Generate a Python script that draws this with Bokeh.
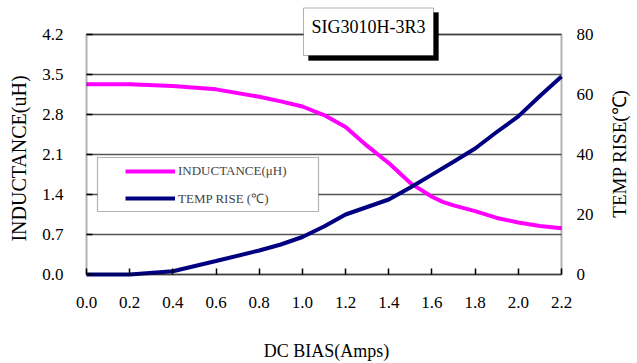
import math

from bokeh.embed import file_html
from bokeh.models import (BoxAnnotation, FixedTicker, Label, Legend, LegendItem,
                          LinearAxis, NumeralTickFormatter, Range1d)
from bokeh.plotting import figure
from bokeh.resources import INLINE

# DC bias current (A) against inductance (uH)
bias_l = [0.0, 0.2, 0.4, 0.6, 0.8, 0.9, 1.0, 1.1, 1.2, 1.3, 1.35, 1.4,
          1.5, 1.6, 1.65, 1.7, 1.8, 1.9, 2.0, 2.1, 2.2]
inductance = [3.33, 3.33, 3.30, 3.24, 3.11, 3.03, 2.94, 2.79, 2.58, 2.25, 2.10, 1.95,
              1.60, 1.36, 1.27, 1.21, 1.11, 0.99, 0.91, 0.85, 0.81]

# DC bias current (A) against temperature rise (C)
bias_t = [0.0, 0.2, 0.4, 0.6, 0.8, 0.9, 1.0, 1.1, 1.2, 1.3, 1.4, 1.5,
          1.6, 1.7, 1.8, 1.9, 2.0, 2.1, 2.2]
temp_rise = [0, 0, 1.1, 4.5, 8, 10, 12.5, 16, 20, 22.5, 25, 29,
             33.3, 37.6, 42, 47.5, 52.7, 59.5, 66]

x_ticks = [0.0, 0.2, 0.4, 0.6, 0.8, 1.0, 1.2, 1.4, 1.6, 1.8, 2.0, 2.2]
l_ticks = [0.0, 0.7, 1.4, 2.1, 2.8, 3.5, 4.2]
t_ticks = [0, 20, 40, 60, 80]

part_name = "SIG3010H-3R3"
x_title = "DC BIAS(Amps)"
l_title = "INDUCTANCE(uH)"
t_title = "TEMP RISE(\u2103)"
label_l = "INDUCTANCE(\u03bcH)"
label_t = "TEMP RISE (\u2103)"

FONT = "'Liberation Serif'"
MAGENTA = "#FF00FF"
NAVY = "#000080"

X_MAX, L_MAX, T_MAX = 2.2, 4.2, 80

# The drawing area covers the whole canvas; the plotted box (475 x 240 px)
# sits 86 px from the left and 34 px from the top, and the margins around it
# are expressed as extra range on each side.
W, H = 637, 363
BOX_L, BOX_T, BOX_W, BOX_H = 86, 34, 475, 240
kx = X_MAX / BOX_W
kl = L_MAX / BOX_H
kt = T_MAX / BOX_H
x_range = Range1d(-BOX_L * kx, X_MAX + (W - BOX_L - BOX_W) * kx)
y_range = Range1d(-(H - BOX_T - BOX_H) * kl, L_MAX + BOX_T * kl)
t_range = Range1d(-(H - BOX_T - BOX_H) * kt, T_MAX + BOX_T * kt)

p = figure(width=W, height=H, x_range=x_range, y_range=y_range,
           output_backend="svg", toolbar_location=None,
           min_border=0, min_border_left=0, min_border_right=0,
           min_border_top=0, min_border_bottom=0)
p.title.visible = False
p.extra_y_ranges = {"temp": t_range}
p.background_fill_color = "white"
p.border_fill_color = "white"
p.outline_line_color = None

right_axis = LinearAxis(y_range_name="temp")
p.add_layout(right_axis, "right")

for ax in p.axis:
    ax.axis_line_color = None
    ax.major_tick_line_color = "black"
    ax.major_tick_line_width = 1.5
    ax.major_tick_out = 0
    ax.major_tick_in = 6
    ax.minor_tick_in = 0
    ax.minor_tick_out = 0
    ax.major_label_text_font = FONT
    ax.major_label_text_font_size = "17px"
    ax.major_label_text_font_style = "normal"
    ax.major_label_text_color = "black"

xa = p.xaxis[0]
xa.fixed_location = 0
xa.bounds = (0, X_MAX)
xa.ticker = FixedTicker(ticks=x_ticks)
xa.formatter = NumeralTickFormatter(format="0.0")
xa.major_label_standoff = 22

ya = p.yaxis[0]
ya.fixed_location = 0
ya.bounds = (0, L_MAX)
ya.ticker = FixedTicker(ticks=l_ticks)
ya.formatter = NumeralTickFormatter(format="0.0")
ya.major_label_standoff = 23

right_axis.fixed_location = X_MAX
right_axis.bounds = (0, T_MAX)
right_axis.ticker = FixedTicker(ticks=t_ticks)
right_axis.major_tick_in = 0
right_axis.major_label_standoff = 15

p.xgrid.visible = False
p.ygrid.ticker = FixedTicker(ticks=l_ticks)
p.ygrid.cross_bounds = (0, X_MAX)
p.ygrid.grid_line_color = "#555555"
p.ygrid.grid_line_width = 1.5

r_l = p.line(bias_l, inductance, line_color=MAGENTA, line_width=4)
r_t = p.line(bias_t, temp_rise, line_color=NAVY, line_width=4, y_range_name="temp")

# border of the plotted box
p.add_layout(BoxAnnotation(left=0, right=X_MAX, bottom=0, top=L_MAX,
                           fill_color=None, line_color="black", line_width=2))

# axis titles
p.add_layout(Label(x=-68 * kx, y=L_MAX / 2 - 4 * kl, text=l_title, angle=math.pi / 2,
                   text_align="center", text_baseline="middle",
                   text_font=FONT, text_font_size="20px", text_color="black"))
p.add_layout(Label(x=X_MAX + 58 * kx, y=L_MAX / 2 + 1 * kl, text=t_title, angle=math.pi / 2,
                   text_align="center", text_baseline="middle",
                   text_font=FONT, text_font_size="19px", text_color="black"))
p.add_layout(Label(x=240 * kx, y=-76 * kl, text=x_title,
                   text_align="center", text_baseline="middle",
                   text_font=FONT, text_font_size="18px", text_color="black"))

# legend frame
p.add_layout(BoxAnnotation(left=11 * kx, right=232 * kx, bottom=63 * kl, top=117 * kl,
                           fill_color="white", fill_alpha=1,
                           line_color="black", line_width=1.2))

legend = Legend(items=[LegendItem(label=label_l, renderers=[r_l]),
                       LegendItem(label=label_t, renderers=[r_t])],
                location=(121, 151), padding=4, spacing=7,
                glyph_width=50, glyph_height=20, label_height=20,
                label_standoff=3,
                label_text_font=FONT, label_text_font_size="13px",
                border_line_alpha=0, background_fill_alpha=0)
p.add_layout(legend, "center")

# part number tag with drop shadow
p.add_layout(BoxAnnotation(left=222 * kx, right=352 * kx,
                           bottom=L_MAX - 26 * kl, top=L_MAX + 22 * kl,
                           fill_color="black", fill_alpha=1, line_color="black"))
p.add_layout(BoxAnnotation(left=217 * kx, right=347 * kx,
                           bottom=L_MAX - 21 * kl, top=L_MAX + 26.5 * kl,
                           fill_color="white", fill_alpha=1,
                           line_color="black", line_width=1))
p.add_layout(Label(x=282 * kx, y=L_MAX + 8 * kl, text=part_name, text_align="center",
                   text_baseline="middle", text_font=FONT, text_font_size="18px",
                   text_color="black"))

open("out.html", "w").write(file_html(p, INLINE))
